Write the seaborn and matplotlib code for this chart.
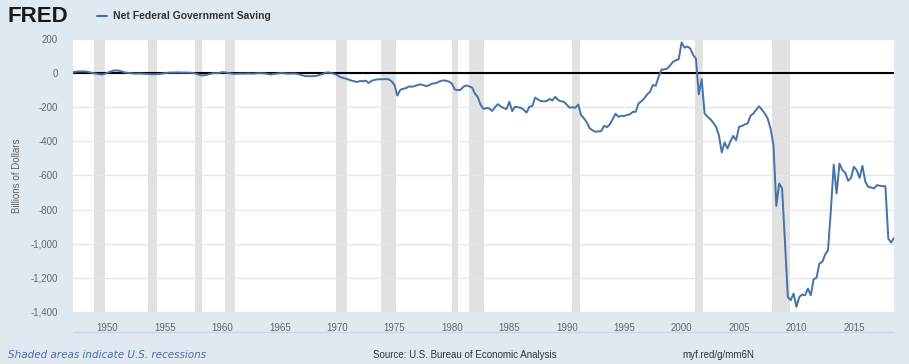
import pandas as pd
import matplotlib.pyplot as plt
import matplotlib.dates as mdates
from matplotlib.ticker import FuncFormatter, MultipleLocator
import seaborn as sns

# Net Federal Government Saving, billions of dollars, quarterly 1947Q1 - 2018Q3
saving = [
    6, 8, 10, 10,            # 1947
    10, 8, 4, 0,             # 1948
    -3, -6, -8, -5,          # 1949
    2, 8, 14, 16,            # 1950
    14, 10, 4, 2,            # 1951
    0, -2, -3, -2,           # 1952
    -3, -4, -5, -6,          # 1953
    -7, -6, -5, -3,          # 1954
    0, 2, 3, 3,              # 1955
    4, 4, 3, 3,              # 1956
    3, 2, 0, -4,             # 1957
    -10, -14, -12, -8,       # 1958
    -4, 0, -1, 1,            # 1959
    6, 4, 1, -2,             # 1960
    -4, -4, -3, -3,          # 1961
    -3, -2, -3, -3,          # 1962
    -1, 0, -1, -2,           # 1963
    -6, -8, -5, -3,          # 1964
    0, 0, -2, -3,            # 1965
    -3, -2, -4, -8,          # 1966
    -14, -17, -18, -18,      # 1967
    -17, -16, -10, -5,       # 1968
    2, 4, 0, -4,             # 1969
    -12, -22, -28, -32,      # 1970
    -38, -44, -48, -52,      # 1971
    -46, -48, -44, -58,      # 1972
    -45, -40, -37, -36,      # 1973
    -36, -35, -36, -48,      # 1974
    -70, -132, -98, -92,     # 1975
    -88, -78, -80, -76,      # 1976
    -70, -66, -70, -76,      # 1977
    -72, -62, -60, -55,      # 1978
    -46, -43, -45, -50,      # 1979
    -62, -96, -100, -98,     # 1980
    -80, -72, -78, -84,      # 1981
    -120, -140, -185, -210,  # 1982
    -205, -207, -222, -200,  # 1983
    -182, -195, -205, -211,  # 1984
    -168, -223, -197, -200,  # 1985
    -203, -215, -231, -197,  # 1986
    -193, -143, -155, -164,  # 1987
    -165, -164, -152, -160,  # 1988
    -139, -158, -165, -168,  # 1989
    -185, -203, -200, -203,  # 1990
    -184, -246, -265, -289,  # 1991
    -324, -335, -344, -342,  # 1992
    -340, -309, -317, -300,  # 1993
    -270, -238, -256, -250,  # 1994
    -252, -245, -242, -227,  # 1995
    -227, -178, -165, -148,  # 1996
    -125, -109, -70, -74,    # 1997
    -21, 20, 22, 27,         # 1998
    45, 66, 75, 82,          # 1999
    180, 149, 156, 145,      # 2000
    106, 85, -125, -35,      # 2001
    -237, -255, -270, -290,  # 2002
    -315, -364, -465, -407,  # 2003
    -442, -400, -368, -393,  # 2004
    -315, -310, -301, -295,  # 2005
    -250, -237, -215, -194,  # 2006
    -215, -237, -266, -325,  # 2007
    -422, -778, -647, -676,  # 2008
    -989, -1312, -1331, -1292,   # 2009
    -1370, -1312, -1298, -1302,  # 2010
    -1263, -1302, -1208, -1200,  # 2011
    -1116, -1107, -1064, -1038,  # 2012
    -800, -536, -706, -530,  # 2013
    -569, -583, -631, -614,  # 2014
    -549, -569, -614, -544,  # 2015
    -637, -667, -670, -676,  # 2016
    -657, -660, -663, -663,  # 2017
    -970, -993, -966,        # 2018
]

rec_start = ["1948-11-01", "1953-07-01", "1957-08-01", "1960-04-01", "1969-12-01", "1973-11-01",
             "1980-01-01", "1981-07-01", "1990-07-01", "2001-03-01", "2007-12-01"]
rec_end = ["1949-10-01", "1954-05-01", "1958-04-01", "1961-02-01", "1970-11-01", "1975-03-01",
           "1980-07-01", "1982-11-01", "1991-03-01", "2001-11-01", "2009-06-01"]

tick_years = list(range(1950, 2016, 5))

df = pd.DataFrame({
    "date": pd.date_range("1947-01-01", periods=len(saving), freq="QS"),
    "value": saving,
})

sns.set_style("white")
plt.rcParams["font.family"] = ["Liberation Sans", "DejaVu Sans"]

bg = "#e1e9f0"
fig = plt.figure(figsize=(9.09, 3.64), dpi=100, facecolor=bg)
ax = fig.add_axes([0.0803, 0.1429, 0.9032, 0.75])
ax.set_facecolor("white")

# recession bars
for s, e in zip(rec_start, rec_end):
    ax.axvspan(pd.Timestamp(s), pd.Timestamp(e), color="#e1e1e1", lw=0, zorder=0)

ax.yaxis.set_major_locator(MultipleLocator(200))
ax.grid(axis="y", color="#e6e6e6", lw=1, zorder=0.5)
ax.grid(axis="x", visible=False)
ax.axhline(0, color="black", lw=1.5, zorder=2)

sns.lineplot(data=df, x="date", y="value", ax=ax, color="#4572a7", lw=1.4, zorder=3)

ax.set_xlim(pd.Timestamp("1947-01-01"), pd.Timestamp("2018-07-01"))
ax.set_ylim(-1400, 200)
ax.set_xticks([pd.Timestamp(f"{y}-01-01") for y in tick_years])
ax.xaxis.set_major_formatter(mdates.DateFormatter("%Y"))
ax.yaxis.set_major_formatter(FuncFormatter(lambda v, p: f"{int(v):,}"))

for sp in ax.spines.values():
    sp.set_visible(False)
ax.tick_params(axis="x", length=5, width=1, color="#ccd6eb", labelsize=7, labelcolor="#666666", pad=3)
ax.tick_params(axis="y", length=0, labelsize=7, labelcolor="#666666", pad=11)
ax.set_xlabel("")
ax.set_ylabel("Billions of Dollars", fontsize=7, color="#666666", labelpad=6)

# light line under the year labels
ax.plot([0, 1], [-0.073, -0.073], transform=ax.transAxes, color="#ccd6eb", lw=1, clip_on=False)

# header
fig.text(0.008, 0.955, "FRED", fontsize=16, fontweight="bold", color="#1a1a1a", va="center")
fig.lines.append(plt.Line2D([0.107, 0.118], [0.955, 0.955], color="#4572a7", lw=1.5,
                            transform=fig.transFigure))
fig.text(0.124, 0.955, "Net Federal Government Saving", fontsize=7.5, fontweight="bold",
         color="#333333", va="center")

# footer
fig.text(0.009, 0.025, "Shaded areas indicate U.S. recessions", fontsize=7.5, style="italic",
         color="#4a6ea9", va="center", family=["DejaVu Sans"])
fig.text(0.41, 0.025, "Source: U.S. Bureau of Economic Analysis", fontsize=7, color="#333333", va="center")
fig.text(0.751, 0.025, "myf.red/g/mm6N", fontsize=7, color="#333333", va="center")

fig.savefig("out.png", dpi=100, facecolor=bg)
